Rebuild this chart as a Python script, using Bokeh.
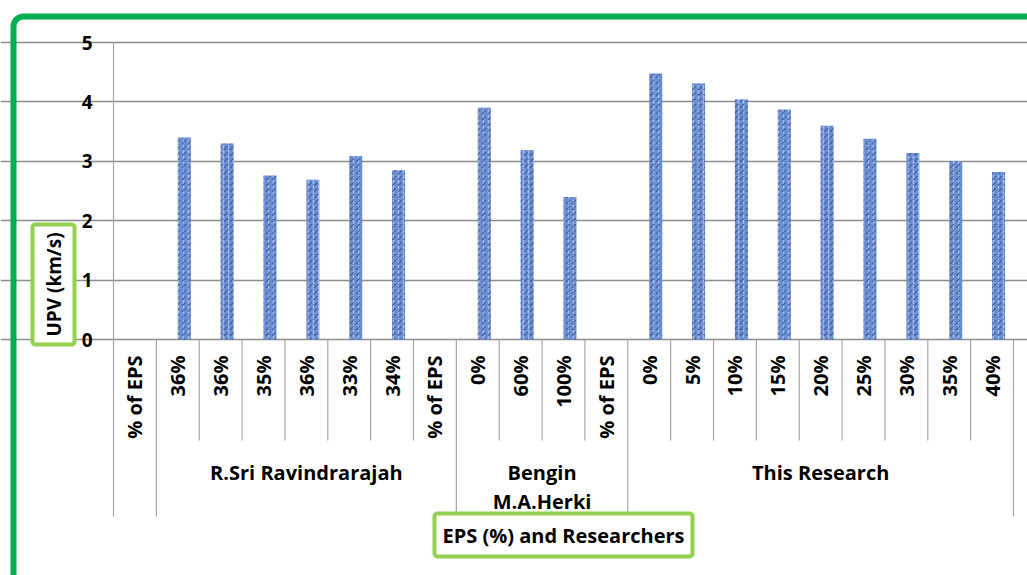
import math
from bokeh.plotting import figure
from bokeh.models import FixedTicker, Label, BoxAnnotation, ColumnDataSource, Range1d, Grid
from bokeh.core.properties import value
from bokeh.embed import file_html
from bokeh.resources import INLINE

# ---------------- data ----------------
categories = ["% of EPS",
              "36%", "36%", "35%", "36%", "33%", "34%", "% of EPS",
              "0%", "60%", "100%", "% of EPS",
              "0%", "5%", "10%", "15%", "20%", "25%", "30%", "35%", "40%"]
groups = ["", "R.Sri Ravindrarajah", "Bengin\nM.A.Herki", "This Research"]
group_sizes = [1, 7, 4, 9]
upv = [None,
       3.40, 3.30, 2.76, 2.69, 3.09, 2.85, None,
       3.90, 3.19, 2.40, None,
       4.48, 4.31, 4.04, 3.87, 3.60, 3.38, 3.14, 3.00, 2.82]
y_ticks = [0, 1, 2, 3, 4, 5]
y_tick_labels = ["0", "1", "2", "3", "4", "5"]
x_title = "EPS (%) and Researchers"
y_title = "UPV (km/s)"

# ---------------- layout constants (pixels) ----------------
W, H = 1027, 575
FONT = "Open Sans"
PX_LEFT, PX_RIGHT = 113, 1013     # category axis extent
PX_TOP, PX_ZERO = 42, 339         # value 5 and value 0
PX_AXIS_BOTTOM = 516

n = len(categories)
CW = (PX_RIGHT - PX_LEFT) / n               # px per category
PPU = (PX_ZERO - PX_TOP) / y_ticks[-1]      # px per value unit


def dx(px):
    return px / CW


def dy(px):
    return px / PPU


Y_AXIS_BOTTOM = -dy(PX_AXIS_BOTTOM - PX_ZERO)

p = figure(width=W, height=H,
           x_range=Range1d(-dx(PX_LEFT), dx(W - PX_LEFT)),
           y_range=Range1d(-dy(H - PX_ZERO), dy(PX_ZERO)),
           x_axis_location=None, y_axis_location=None,
           output_backend="svg", toolbar_location=None, min_border=0)
p.outline_line_color = None
p.background_fill_color = "white"
p.border_fill_color = "white"
p.grid.visible = False

# horizontal gridlines (include the outward tick marks)
p.add_layout(Grid(dimension=1, ticker=FixedTicker(ticks=y_ticks),
                  bounds=(-dx(7), n), grid_line_color="#8c8c8c",
                  grid_line_width=1.3))

# value axis line
p.segment(x0=[0], y0=[Y_AXIS_BOTTOM], x1=[0], y1=[y_ticks[-1]],
          line_color="#a6a6a6", line_width=1.2)

# value tick labels
p.text(x=[-dx(21)] * len(y_ticks), y=y_ticks, text=y_tick_labels,
       text_align="right", text_baseline="middle", text_font=value(FONT),
       text_font_style="bold", text_font_size="19px", text_color="black")

# bars (second series of a two-series cluster -> starts at category centre)
bw = 0.303
bx = [i + 0.5 + bw / 2 for i, v in enumerate(upv) if v is not None]
bt = [v for v in upv if v is not None]
src = ColumnDataSource(dict(x=bx, top=bt))
p.vbar(x="x", top="top", bottom=0, width=bw, source=src,
       fill_color="#6a8cd0", line_color=None)
p.vbar(x="x", top="top", bottom=0, width=bw, source=src,
       fill_color=None, line_color=None, hatch_pattern=":",
       hatch_color="#b9d0f7", hatch_scale=5, hatch_weight=1.5, hatch_alpha=0.7)
p.vbar(x="x", top="top", bottom=0, width=bw, source=src,
       fill_color=None, line_color=None, hatch_pattern=",",
       hatch_color="#1c3877", hatch_scale=6, hatch_weight=1.2, hatch_alpha=0.6)

# category separators / group separators
bounds = [0]
for s in group_sizes:
    bounds.append(bounds[-1] + s)
minor = [k for k in range(1, n) if k not in bounds]
p.segment(x0=minor, y0=[0] * len(minor), x1=minor, y1=[-dy(101)] * len(minor),
          line_color="#a6a6a6", line_width=1.2)
major = bounds[1:]
p.segment(x0=major, y0=[0] * len(major), x1=major, y1=[Y_AXIS_BOTTOM] * len(major),
          line_color="#a6a6a6", line_width=1.2)

# category labels (rotated)
p.text(x=[i + 0.5 for i in range(n)], y=[-dy(16)] * n, text=categories,
       angle=math.pi / 2, text_align="right", text_baseline="middle",
       text_font=value(FONT), text_font_style="bold", text_font_size="20px",
       text_color="black")

# group labels
gx, gy, gt = [], [], []
for g, name in enumerate(groups):
    cx = (bounds[g] + bounds[g + 1]) / 2
    for j, line in enumerate(name.split("\n")):
        if line:
            gx.append(cx)
            gy.append(-dy(133 + 28.5 * j))
            gt.append(line)
p.text(x=gx, y=gy, text=gt, text_align="center", text_baseline="middle",
       text_font=value(FONT), text_font_style="bold", text_font_size="20px",
       text_color="black")

# axis titles in boxes
p.add_layout(Label(x=n / 2, y=-dy(534.5 - PX_ZERO),
                   text=x_title, text_align="center", text_baseline="middle",
                   text_font=FONT, text_font_style="bold", text_font_size="20px",
                   text_color="black", background_fill_color="white",
                   border_line_color="#92D050", border_line_width=4,
                   border_radius=3, padding=8))
p.add_layout(Label(x=-dx(PX_LEFT - 53), y=dy(PX_ZERO - 284),
                   text=y_title, angle=math.pi / 2, text_align="center",
                   text_baseline="middle", text_font=FONT,
                   text_font_style="bold", text_font_size="19px",
                   text_color="black", background_fill_color="white",
                   border_line_color="#92D050", border_line_width=4,
                   border_radius=3, padding=8))

# outer green frame
p.add_layout(BoxAnnotation(left=13, right=3000, top=H - 16, bottom=-3000,
                           left_units="screen", right_units="screen",
                           top_units="screen", bottom_units="screen",
                           fill_color=None, fill_alpha=0, line_color="#00B050",
                           line_alpha=1.0, line_width=6, border_radius=10,
                           level="overlay"))

open("out.html", "w").write(file_html(p, INLINE))
